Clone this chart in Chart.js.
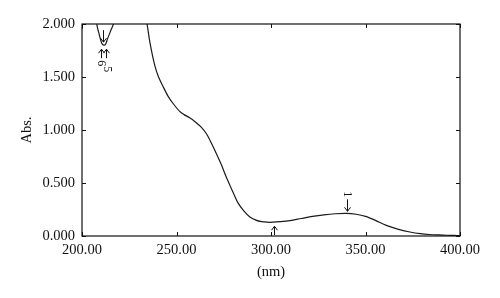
<!DOCTYPE html>
<html>
<head>
<meta charset="utf-8">
<script src="https://cdn.jsdelivr.net/npm/chart.js@4"></script>
<style>
  html, body { margin: 0; padding: 0; background: #fff; }
  #wrap { width: 500px; height: 298px; }
</style>
</head>
<body>
<div id="wrap"><canvas id="chart"></canvas></div>
<script>
// ===== DATA =====
const wavelength = [200, 201.5, 205, 207.8, 209, 210.4, 211.5, 212.5, 213.5, 215.5, 216.6, 218, 225, 232,
  234.4, 236, 238.5, 240.5, 242.9, 245.5, 248.2, 251.7, 254, 257, 260, 263.2, 266, 268.5, 271,
  273.8, 276, 278.2, 280.5, 282.6, 285.5, 288.8, 292, 295, 298, 301, 305, 310, 316, 322, 328,
  334, 340, 345, 350, 355, 361, 367, 373.5, 379, 384, 389, 393, 397, 400];
const absorbance = [1.95, 2.3, 2.5, 2.0, 1.91, 1.82, 1.8, 1.81, 1.86, 1.95, 2.0, 2.15, 2.5, 2.2,
  2.0, 1.82, 1.61, 1.5, 1.41, 1.32, 1.25, 1.175, 1.145, 1.115, 1.075, 1.025, 0.96, 0.875, 0.78,
  0.67, 0.57, 0.48, 0.39, 0.31, 0.24, 0.18, 0.15, 0.135, 0.13, 0.13, 0.135, 0.145, 0.165, 0.185, 0.2,
  0.21, 0.214, 0.205, 0.185, 0.15, 0.1, 0.065, 0.038, 0.022, 0.014, 0.01, 0.007, 0.005, 0.004];

const xTicks = [200, 250, 300, 350, 400];
const yTicks = [0, 0.5, 1, 1.5, 2];

// peak / valley pick marks
const pickNm = [340, 301.5, 211, 210, 212.5];
const pickAbs = [0.214, 0.13, 1.81, 1.8, 1.8];
const pickDir = ["down", "up", "down", "up", "up"];
const pickLabel = ["1", "", "", "6", "5"];

const FONT = "'Liberation Serif', 'Times New Roman', serif";

// ===== FRAME + INWARD TICKS + PICKS =====
const framePlugin = {
  id: "frame",
  afterDatasetsDraw(chart) {
    const { ctx, chartArea: a, scales } = chart;
    const x = scales.x, y = scales.y;
    ctx.save();
    ctx.strokeStyle = "#111";
    ctx.lineWidth = 1.2;
    ctx.strokeRect(a.left, a.top, a.right - a.left, a.bottom - a.top);

    ctx.lineWidth = 1;
    ctx.beginPath();
    xTicks.forEach(v => {
      const px = Math.round(x.getPixelForValue(v)) + 0.5;
      ctx.moveTo(px, a.bottom); ctx.lineTo(px, a.bottom - 4);
      ctx.moveTo(px, a.top); ctx.lineTo(px, a.top + 4);
    });
    yTicks.forEach(v => {
      const py = Math.round(y.getPixelForValue(v)) + 0.5;
      ctx.moveTo(a.left, py); ctx.lineTo(a.left + 4, py);
      ctx.moveTo(a.right, py); ctx.lineTo(a.right - 4, py);
    });
    ctx.stroke();

    // pick arrows
    ctx.font = "12px " + FONT;
    ctx.fillStyle = "#111";
    ctx.textAlign = "center";
    ctx.textBaseline = "middle";
    pickNm.forEach((nm, i) => {
      const px = Math.round(x.getPixelForValue(nm)) + 0.5;
      const py = y.getPixelForValue(pickAbs[i]);
      let tip, tail, s;
      if (pickDir[i] === "down") {
        tip = py - 2; tail = tip - 12; s = -1;
      } else {
        tip = py + 4; tail = Math.min(tip + 9, a.bottom - 1); s = 1;
      }
      ctx.beginPath();
      ctx.moveTo(px, tail); ctx.lineTo(px, tip);
      ctx.moveTo(px - 3, tip + s * 4); ctx.lineTo(px, tip); ctx.lineTo(px + 3, tip + s * 4);
      ctx.stroke();
      if (pickLabel[i]) {
        const ly = pickDir[i] === "down" ? tail - 5 : tail + 5 + (i === 4 ? 6 : 0);
        ctx.save();
        ctx.translate(px + (i === 4 ? 1 : 0), ly);
        ctx.rotate(Math.PI / 2);
        ctx.fillText(pickLabel[i], 0, 0);
        ctx.restore();
      }
    });
    ctx.restore();
  }
};

// ===== CHART =====
const points = wavelength.map((w, i) => ({ x: w, y: absorbance[i] }));

new Chart(document.getElementById("chart"), {
  type: "line",
  data: {
    datasets: [{
      data: points,
      borderColor: "#1a1a1a",
      borderWidth: 1.2,
      pointRadius: 0,
      tension: 0.3,
      clip: 0
    }]
  },
  options: {
    responsive: true,
    maintainAspectRatio: false,
    animation: false,
    layout: { padding: { top: 24, right: 40, left: 0, bottom: 0 } },
    plugins: { legend: { display: false }, tooltip: { enabled: false } },
    scales: {
      x: {
        type: "linear",
        min: 200,
        max: 400,
        afterBuildTicks: s => { s.ticks = xTicks.map(v => ({ value: v })); },
        afterFit: s => { s.height = 62; },
        grid: { display: false, drawTicks: false },
        border: { display: false },
        ticks: {
          color: "#111",
          padding: 5,
          maxRotation: 0,
          font: { family: FONT, size: 14.5 },
          callback: v => v.toFixed(2)
        },
        title: {
          display: true,
          text: "(nm)",
          color: "#111",
          font: { family: FONT, size: 14.5 },
          padding: { top: 4, bottom: 17 }
        }
      },
      y: {
        min: 0,
        max: 2,
        afterBuildTicks: s => { s.ticks = yTicks.map(v => ({ value: v })); },
        afterFit: s => { s.width = 82; },
        grid: { display: false, drawTicks: false },
        border: { display: false },
        ticks: {
          color: "#111",
          padding: 7,
          font: { family: FONT, size: 14.5 },
          callback: v => v.toFixed(3)
        },
        title: {
          display: true,
          text: "Abs.",
          color: "#111",
          font: { family: FONT, size: 14.5 },
          padding: { top: 18, bottom: 4 }
        }
      }
    }
  },
  plugins: [framePlugin]
});
</script>
</body>
</html>
